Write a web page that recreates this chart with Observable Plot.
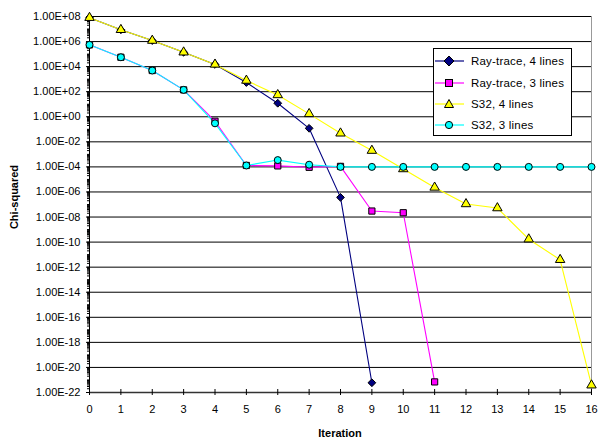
<!DOCTYPE html>
<html><head><meta charset="utf-8">
<script src="https://cdn.jsdelivr.net/npm/d3@7"></script>
<script src="https://cdn.jsdelivr.net/npm/@observablehq/plot@0.6"></script>
<style>
body{margin:0;background:#fff;font-family:Arial,"Liberation Sans",sans-serif}
#wrap{position:relative;width:598px;height:440px;overflow:hidden}
#wrap svg{position:absolute;left:0;top:0}
.legend{position:absolute;left:433px;top:48px;width:137px;height:86px;border:1px solid #000;background:#fff;box-sizing:content-box}
.legend .row{position:absolute;left:0;height:16px;width:137px}
.legend .row svg{position:absolute;left:3px;top:0}
.legend .row span{position:absolute;left:37px;top:0;font-size:11.5px;line-height:16px;color:#000;white-space:nowrap;letter-spacing:0.2px}
.ytitle{position:absolute;left:14px;top:197px;transform:translate(-50%,-50%) rotate(-90deg);font-weight:bold;font-size:11px;white-space:nowrap}
.xtitle{position:absolute;left:340px;top:433px;transform:translate(-50%,-50%);font-weight:bold;font-size:11px;white-space:nowrap}
</style></head><body><div id="wrap"></div>
<script>
// ---- data ----
const seriesNames = ["Ray-trace, 4 lines", "Ray-trace, 3 lines", "S32, 4 lines", "S32, 3 lines"];
const seriesColors = ["#000080", "#FF00FF", "#FFFF00", "#00FFFF"];
const seriesSymbols = ["diamond2", "square", "triangle", "circle"];
const iterations = [0, 1, 2, 3, 4, 5, 6, 7, 8, 9, 10, 11, 12, 13, 14, 15, 16];
const rayTrace4 = [8e7, 8.7e6, 1.2e6, 1.4e5, 1.5e4, 540, 12, 0.12, 3.7e-7, 6e-22];
const rayTrace3 = [5.5e5, 5.6e4, 4.9e3, 140, 0.44, 1.3e-4, 1.2e-4, 9.3e-5, 1.1e-4, 3e-8, 2.2e-8, 7e-22];
const s32Four = [8e7, 8.7e6, 1.2e6, 1.4e5, 1.5e4, 780, 55, 1.7, 0.048, 2e-3, 6.8e-5, 2.3e-6, 1.1e-7, 5.2e-8, 1.7e-10, 3.9e-12, 3.8e-22];
const s32Three = [5.5e5, 5.6e4, 4.9e3, 140, 0.3, 1.3e-4, 3.5e-4, 1.5e-4, 1e-4, 1e-4, 1e-4, 1e-4, 1e-4, 1e-4, 1e-4, 1e-4, 1e-4];
const yTickValues = [1e8, 1e6, 1e4, 1e2, 1e0, 1e-2, 1e-4, 1e-6, 1e-8, 1e-10, 1e-12, 1e-14, 1e-16, 1e-18, 1e-20, 1e-22];
const xTickValues = iterations;

// ---- build table ----
const allSeries = [rayTrace4, rayTrace3, s32Four, s32Three];
const rows = [];
allSeries.forEach((vals, i) => vals.forEach((v, j) => rows.push({series: seriesNames[i], x: iterations[j], y: v})));

const fmtE = d => {
  const e = Math.round(Math.log10(d));
  const m = d / Math.pow(10, e);
  return m.toFixed(2) + "E" + (e < 0 ? "-" : "+") + String(Math.abs(e)).padStart(2, "0");
};
const minorTicks = [];
for (let e = -22; e < 8; e++) for (let k = 1; k < 10; k++) minorTicks.push(k * Math.pow(10, e));
minorTicks.push(1e8);

const chart = Plot.plot({
  width: 598, height: 440,
  marginLeft: 89, marginRight: 7, marginTop: 16, marginBottom: 48,
  style: {fontFamily: "Arial, 'Liberation Sans', sans-serif", fontSize: "11px", color: "#000", background: "transparent"},
  x: {domain: [0, 16]},
  y: {type: "log", domain: [1e-22, 1e8]},
  color: {domain: seriesNames, range: seriesColors},
  symbol: {domain: seriesNames, range: seriesSymbols},
  marks: [
    Plot.frame({stroke: "#999"}),
    Plot.ruleY(yTickValues.slice(0, -1), {stroke: "#000", strokeWidth: 1}),
    Plot.ruleX([0], {stroke: "#000"}),
    Plot.ruleY([1e-22], {stroke: "#333", strokeWidth: 1.5}),
    Plot.axisY({ticks: minorTicks, tickSize: 2, tickFormat: () => "", label: null}),
    Plot.axisY({ticks: yTickValues, tickSize: 3, tickPadding: 6, tickFormat: fmtE, label: null}),
    Plot.axisX({ticks: xTickValues, tickSize: 6, dy: -3, tickFormat: () => "", label: null}),
    Plot.axisX({ticks: xTickValues, tickSize: 0, tickPadding: 13, tickFormat: d => String(d), label: null}),
    Plot.line(rows, {x: "x", y: "y", z: "series", stroke: "series", strokeWidth: 1.1}),
    Plot.dot(rows, {x: "x", y: "y", symbol: "series", fill: "series", stroke: "#000", strokeWidth: 1, r: 3.5})
  ]
});
const wrap = document.getElementById("wrap");
wrap.appendChild(chart);

// legend
const legend = document.createElement("div");
legend.className = "legend";
const sym = {
  "diamond2": '<path d="M15,3 L20,8 L15,13 L10,8 Z" />',
  "square": '<rect x="11.5" y="4.5" width="7" height="7" />',
  "triangle": '<path d="M15,3.5 L19.5,11.5 L10.5,11.5 Z" />',
  "circle": '<circle cx="15" cy="8" r="3.6" />'
};
const rowTops = [4, 26, 47, 68];
seriesNames.forEach((name, i) => {
  const r = document.createElement("div");
  r.className = "row";
  r.style.top = rowTops[i] + "px";
  r.innerHTML = `<svg width="32" height="16"><line x1="1" x2="30" y1="8" y2="8" stroke="${seriesColors[i]}" stroke-width="1.2"/><g fill="${seriesColors[i]}" stroke="#000" stroke-width="1">${sym[seriesSymbols[i]]}</g></svg><span>${name}</span>`;
  legend.appendChild(r);
});
wrap.appendChild(legend);

const yt = document.createElement("div"); yt.className = "ytitle"; yt.textContent = "Chi-squared"; wrap.appendChild(yt);
const xt = document.createElement("div"); xt.className = "xtitle"; xt.textContent = "Iteration"; wrap.appendChild(xt);
</script></body></html>
